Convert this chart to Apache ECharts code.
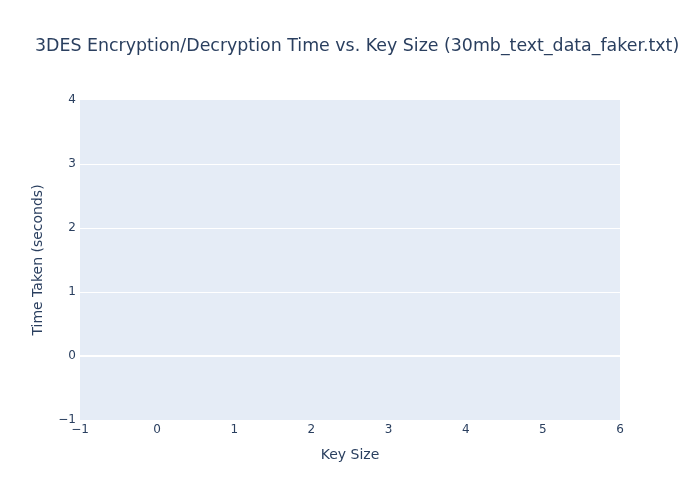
<!DOCTYPE html>
<html>
<head>
<meta charset="utf-8">
<script src="https://cdn.jsdelivr.net/npm/echarts@6/dist/echarts.min.js"></script>
<style>html,body{margin:0;padding:0;background:#fff}#c{width:700px;height:500px}</style>
</head>
<body>
<div id="c"></div>
<script>
const titleText = "3DES Encryption/Decryption Time vs. Key Size (30mb_text_data_faker.txt)";
const xName = "Key Size";
const yName = "Time Taken (seconds)";
const xRange = [-1, 6];
const yRange = [-1, 4];
const keySizes = [];
const timeValues = [];

const fmt = v => (v < 0 ? "\u2212" + Math.abs(v) : String(v));
const chart = echarts.init(document.getElementById('c'), null, {renderer: 'canvas'});
const txt = '#2a3f5f';
const ff = '"DejaVu Sans", Verdana, sans-serif';
chart.setOption({
  animation: false,
  backgroundColor: '#fff',
  textStyle: {fontFamily: ff},
  title: {
    text: titleText, left: 30, top: 33,
    textStyle: {fontFamily: ff, fontSize: 17.4, fontWeight: 'normal', color: txt}
  },
  grid: {left: 80, right: 80, top: 100, bottom: 80, show: true, backgroundColor: '#E5ECF6', borderWidth: 0},
  xAxis: {
    type: 'value', min: xRange[0], max: xRange[1], interval: 1,
    name: xName, nameLocation: 'middle', nameGap: 28,
    nameTextStyle: {fontSize: 14, color: txt, fontFamily: ff},
    axisLine: {show: false}, axisTick: {show: false}, splitLine: {show: false},
    axisLabel: {fontSize: 12, color: txt, margin: 4, formatter: fmt, fontFamily: ff}
  },
  yAxis: {
    type: 'value', min: yRange[0], max: yRange[1], interval: 1,
    name: yName, nameLocation: 'middle', nameGap: 35,
    nameTextStyle: {fontSize: 14, color: txt, fontFamily: ff},
    axisLine: {show: false}, axisTick: {show: false},
    splitLine: {show: true, lineStyle: {width: 1, color: ['rgba(0,0,0,0)', '#ffffff', '#ffffff', '#ffffff', '#ffffff', 'rgba(0,0,0,0)']}},
    axisLabel: {fontSize: 12, color: txt, margin: 4, formatter: fmt, fontFamily: ff}
  },
  series: [{
    type: 'line', data: keySizes.map((k, i) => [k, timeValues[i]]), symbol: 'none',
    markLine: {silent: true, symbol: 'none', label: {show: false},
      lineStyle: {color: '#ffffff', width: 2, type: 'solid'}, data: [{yAxis: 0}]}
  }]
});
</script>
</body>
</html>
